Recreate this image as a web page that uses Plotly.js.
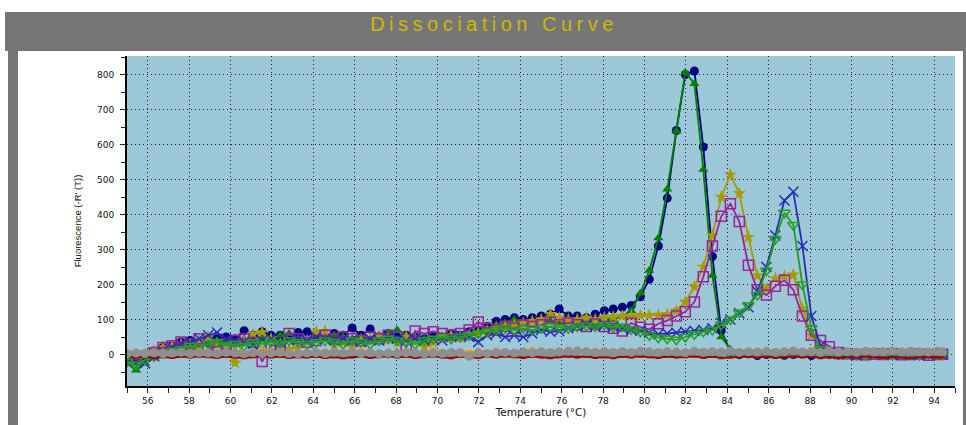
<!DOCTYPE html>
<html><head><meta charset="utf-8">
<script src="https://cdn.plot.ly/plotly-3.0.1.min.js"></script>
<style>
html,body{margin:0;padding:0;background:#fff;}
#wrap{position:relative;width:966px;height:425px;overflow:hidden;background:#fff;}
.blk{position:absolute;background:#767676;}
#chart{position:absolute;left:0;top:0;width:966px;height:425px;}
</style></head><body>
<div id="wrap">
<div class="blk" style="left:5px;top:12px;width:961px;height:39px"></div>
<div class="blk" style="left:8px;top:51px;width:10px;height:374px"></div>
<div class="blk" style="left:963px;top:51px;width:3px;height:374px"></div>
<div id="chart"></div>
</div>
<script>
// Temperatures (°C)
var temps = [55.00,55.44,55.87,56.31,56.74,57.18,57.61,58.05,58.48,58.92,
59.35,59.79,60.22,60.66,61.09,61.53,61.96,62.40,62.83,63.27,
63.70,64.14,64.57,65.01,65.44,65.88,66.31,66.75,67.18,67.62,
68.05,68.49,68.92,69.36,69.79,70.23,70.66,71.10,71.53,71.97,
72.40,72.84,73.27,73.71,74.14,74.58,75.01,75.45,75.88,76.32,
76.75,77.19,77.62,78.06,78.49,78.93,79.36,79.80,80.23,80.67,
81.10,81.54,81.97,82.41,82.84,83.28,83.71,84.15,84.58,85.02,
85.45,85.89,86.32,86.76,87.19,87.63,88.06,88.50,88.93,89.37,
89.80,90.24,90.67,91.11,91.54,91.98,92.41,92.85,93.28,93.72,
94.15,94.40];

var navyCircle = [-15,-20,-5,10,20,25,35,40,30,35,
45,50,45,68,55,65,55,55,50,63,
65,50,49,60,55,76,55,73,51,60,
50,55,50,45,55,50,60,55,65,70,
80,95,100,105,100,105,110,115,130,110,
110,105,115,125,130,135,140,165,215,310,
447,640,800,810,593,280,68,8,0,2,
-3,0,3,-2,0,2,-3,1,0,-2,
3,0,-1,2,-2,0,1,-3,2,0,
-1,2];

var greenTriangle = [-25,-45,-25,-10,5,15,20,15,25,30,
40,35,30,45,35,45,40,55,60,45,
40,45,50,55,50,45,50,45,55,60,
70,55,50,45,40,50,45,55,60,65,
75,85,90,100,90,95,100,95,90,95,
90,95,100,105,100,110,125,175,240,333,
472,638,806,774,529,226,50,15,2,-2,
1,-1,2,0,-2,1,0,-1,2,0,
-2,1,0,2,-1,0,1,-2,0,1,
0,-1];

var oliveStar = [-5,-10,0,10,20,25,30,30,40,50,
30,10,-24,40,58,64,45,30,15,19,
40,65,67,27,35,22,40,45,50,45,
35,50,40,22,35,50,55,50,55,60,
65,75,80,85,90,95,100,115,105,100,
100,105,100,105,108,110,110,112,112,113,
115,125,150,193,250,340,450,514,460,335,
225,188,217,224,228,130,55,18,6,3,
0,2,-1,1,3,0,-2,1,2,0,
1,-1];

var magentaSquare = [-10,-15,-5,5,20,25,36,30,45,18,
22,30,40,45,35,-20,27,24,60,45,
35,40,55,45,50,45,40,50,45,55,
50,22,67,60,65,60,55,60,70,93,
75,70,81,75,84,80,85,93,85,90,
85,80,87,80,75,67,90,78,72,88,
97,110,122,150,222,310,395,431,380,255,
185,170,195,212,185,110,55,40,22,6,
2,0,-1,1,0,2,-1,0,1,-2,
0,1];

var blueCross = [-10,-20,-25,-5,10,20,30,35,45,55,
63,45,40,35,30,40,45,35,40,45,
40,50,45,40,45,40,35,45,40,50,
45,40,45,40,45,40,50,55,50,36,
55,60,50,55,50,60,70,65,67,75,
80,85,80,85,80,75,70,68,62,58,
60,62,65,68,70,75,90,100,118,135,
180,250,340,440,465,310,110,25,5,1,
0,-2,1,0,2,-1,0,1,-2,0,
1,0];

var greenDownTri = [-20,-30,-15,-5,5,10,15,25,20,30,
35,25,30,25,35,30,35,30,40,35,
30,35,40,35,30,40,35,30,40,45,
40,35,30,40,45,50,45,50,55,60,
65,70,75,70,75,70,75,80,78,75,
80,82,80,84,78,80,72,65,55,48,
45,42,50,58,65,70,85,100,120,140,
170,240,330,405,370,200,75,15,3,0,
1,-1,0,2,0,-1,1,0,-2,1,
0,0];

var tealBase = [-3,-2,-4,-1,-3,-5,-2,-4,-3,-1,
-4,-2,-3,-5,-1,-3,-4,-2,-6,-3,
-2,-4,-3,-1,-5,-3,-2,-4,-3,-6,
-2,-3,-4,-1,-3,-5,-2,-4,-3,-2,
-4,-3,-1,-5,-2,-4,-3,-6,-2,-3,
-4,-2,-3,-5,-1,-3,-4,-2,-3,-5,
-2,-4,-3,-1,-5,-3,-2,-4,-3,-2,
-4,-3,-5,-2,-3,-1,-4,-3,-2,-5,
-3,-2,-4,-1,-3,-5,-2,-4,-3,-2,
-3,-4];

var redBase = [-5,-8,-6,-10,-7,-9,-6,-8,-5,-7,
-9,-6,-8,-10,-7,-5,-8,-6,-9,-7,
-8,-6,-9,-7,-10,-8,-6,-9,-7,-5,
-8,-6,-9,-7,-5,-8,-10,-6,-7,-9,
-6,-8,-5,-7,-9,-6,-8,-10,-7,-5,
-8,-6,-9,-7,-10,-6,-8,-5,-7,-9,
-6,-8,-7,-5,-9,-6,-10,-8,-7,-5,
-8,-6,-9,-7,-5,-8,-6,-10,-7,-9,
-6,-8,-5,-7,-9,-6,-8,-10,-7,-6,
-8,-7];

var orangeBase = [7,9,6,10,8,5,9,6,12,8,
6,9,10,5,7,14,12,6,9,7,
5,6,10,9,6,7,12,9,5,6,
7,11,6,9,13,8,5,9,6,11,
7,12,9,6,10,14,9,7,12,10,
8,6,10,13,9,7,10,12,9,7,
10,9,6,12,10,7,9,13,10,7,
9,12,10,9,7,10,13,9,12,10,
8,9,12,14,10,9,12,13,10,9,
12,10];

var grayBase = [2,4,3,5,2,4,6,3,5,4,
3,6,4,2,5,3,4,6,3,2,
4,5,3,6,4,8,3,5,2,4,
3,5,4,2,4,3,6,5,-5,4,
3,5,6,4,7,5,8,6,7,9,
10,8,6,7,5,8,6,9,7,6,
8,7,5,9,6,8,7,10,6,8,
7,9,6,8,10,7,8,6,9,7,
8,6,9,7,8,10,7,9,8,7,
9,8];

var xTickVals = [56,58,60,62,64,66,68,70,72,74,76,78,80,82,84,86,88,90,92,94];
var yTickVals = [0,100,200,300,400,500,600,700,800];

var seriesList = [
  {y: navyCircle,    color:'#000080', symbol:'circle',             size:9,  lw:1.8, mlw:0},
  {y: greenTriangle, color:'#008000', symbol:'triangle-up',        size:9,  lw:1.8, mlw:0},
  {y: oliveStar,     color:'#a89b00', symbol:'star',               size:10, lw:1.8, mlw:0},
  {y: magentaSquare, color:'#a0209a', symbol:'square-open',        size:10, lw:1.8, mlw:1.5},
  {y: blueCross,     color:'#2a2ab8', symbol:'x-thin-open',        size:10, lw:1.8, mlw:1.5},
  {y: greenDownTri,  color:'#22a022', symbol:'triangle-down-open', size:10, lw:1.8, mlw:1.5},
  {y: tealBase,      color:'#40a0a0', symbol:'diamond',            size:4,  lw:1.5, mlw:0},
  {y: redBase,       color:'#a00000', symbol:'triangle-up',        size:5,  lw:2,   mlw:0},
  {y: orangeBase,    color:'#ff9000', symbol:'square',             size:5,  lw:2,   mlw:0},
  {y: grayBase,      color:'#8f8f8f', symbol:'circle',             size:9,  lw:5,   mlw:0}
];

var traces = seriesList.map(function(s){
  return {
    x: temps, y: s.y, type:'scatter', mode:'lines+markers',
    line:{color:s.color, width:s.lw},
    marker:{symbol:s.symbol, size:s.size, color:s.color, line:{color:s.color, width:s.mlw}},
    hoverinfo:'skip'
  };
});

var tickFont = {family:'DejaVu Sans, sans-serif', size:9, color:'#111'};

var layout = {
  width:966, height:425,
  paper_bgcolor:'rgba(0,0,0,0)',
  plot_bgcolor:'#9dc8d7',
  margin:{l:127, r:11, t:56, b:39, pad:0},
  showlegend:false,
  title:{
    text:'<span style="letter-spacing:4.5px">Dissociation Curve</span>',
    font:{family:'Liberation Sans, Arial, sans-serif', size:20, color:'#cdb900'},
    xref:'container', yref:'container', x:0.5114, y:0.9447, xanchor:'center', yanchor:'middle'
  },
  xaxis:{
    range:[55,95], tickvals:xTickVals, ticktext:xTickVals.map(String),
    ticks:'outside', ticklen:5, tickwidth:1, tickcolor:'#222',
    minor:{dtick:1, tick0:55, ticks:'outside', ticklen:5, tickcolor:'#222', showgrid:false},
    showgrid:true, gridcolor:'#222', gridwidth:1, griddash:'1px,3px',
    showline:true, linecolor:'#000', linewidth:2,
    zeroline:false, tickfont:tickFont,
    title:{text:'Temperature (°C)', font:{family:'DejaVu Sans, sans-serif', size:10.5, color:'#111'}, standoff:4}
  },
  yaxis:{
    range:[-90,853], tickvals:yTickVals, ticktext:yTickVals.map(String),
    ticks:'outside', ticklen:5, tickwidth:1, tickcolor:'#222',
    minor:{dtick:50, tick0:0, ticks:'outside', ticklen:4, tickcolor:'#222', showgrid:false},
    showgrid:true, gridcolor:'#222', gridwidth:1, griddash:'1px,3px',
    showline:true, linecolor:'#000', linewidth:2,
    zeroline:false, tickfont:tickFont, ticklabelstandoff:4,
    title:{text:"Fluorescence (-R' (T))", font:{family:'Liberation Sans, Arial, sans-serif', size:9.5, color:'#111'}, standoff:14}
  }
};

Plotly.newPlot('chart', traces, layout, {staticPlot:true, displayModeBar:false});
</script>
</body></html>
